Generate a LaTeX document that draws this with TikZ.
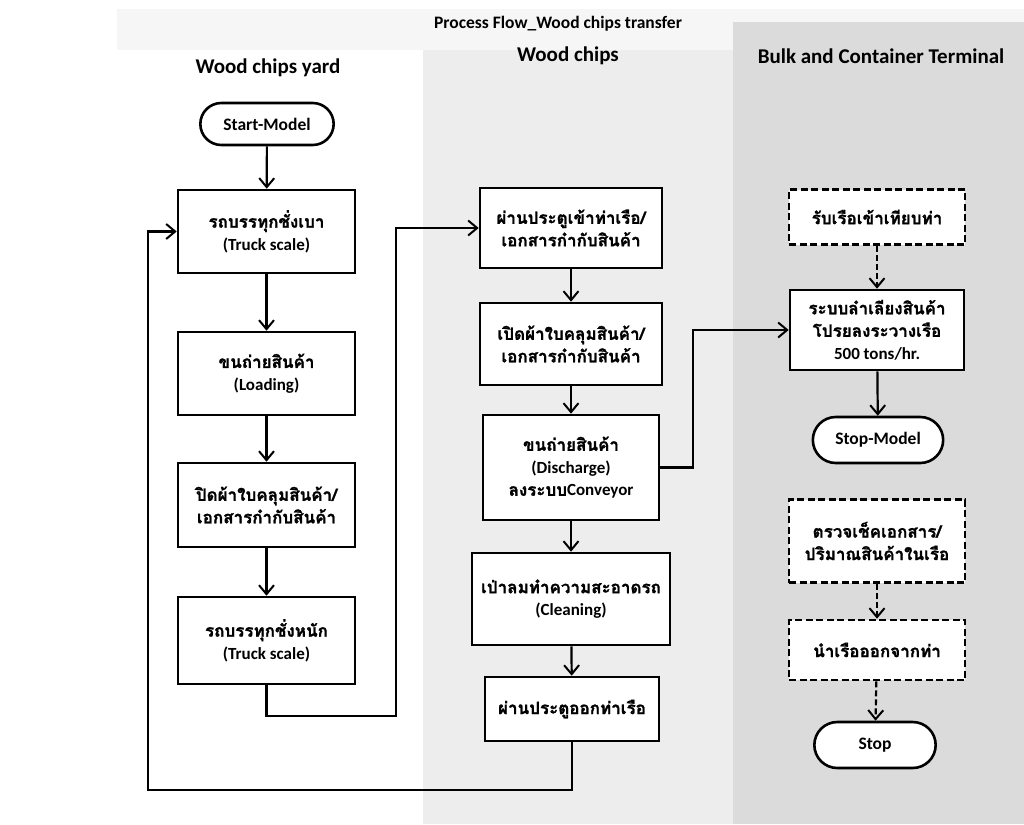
\documentclass[tikz,border=0pt]{standalone}
\usepackage{fontspec}
\setmainfont{Carlito}
\newfontfamily\thaifont[Script=Thai,FakeBold=1.2]{Loma}
\usetikzlibrary{arrows.meta,shapes.misc}
\newcommand\thx[1]{{\thaifont #1}}
\tikzset{
  box/.style={draw, line width=2.6pt, fill=white, align=center, inner sep=2pt,
    font=\bfseries\fontsize{17}{22.5}\selectfont},
  dbox/.style={box, dash pattern=on 7pt off 3.5pt},
  term/.style={draw, line width=2.6pt, fill=white, rounded rectangle, align=center,
    font=\bfseries\fontsize{17.5}{22}\selectfont},
  hdr/.style={font=\bfseries\fontsize{21}{24}\selectfont},
  ttl/.style={font=\bfseries\fontsize{17.5}{20}\selectfont},
  arr/.style={line width=2.2pt, -{Straight Barb[length=9pt,width=15pt,line width=2pt]}},
  darr/.style={arr, dash pattern=on 6pt off 3pt},
}
\begin{document}
\begin{tikzpicture}[x=1pt,y=-1pt]
\useasboundingbox (0,0) rectangle (1024,824);
% backgrounds
\fill[gray!7] (117,9) rectangle (1024,50);
\fill[gray!14] (423,50) rectangle (733,824);
\fill[gray!28] (733,22) rectangle (1024,824);
% headers
\node[ttl] (title) at (558,24) {Process Flow\_Wood chips transfer};
\node[hdr] (h1) at (268,68) {Wood chips yard};
\node[hdr] (h2) at (568,56) {Wood chips};
\node[hdr] (h3) at (881,56) {Bulk and Container Terminal};
% left column
\node[term, minimum width=140pt, minimum height=42pt] (start) at (267,124) {Start-Model};
\node[box, minimum width=177pt, minimum height=83pt] (b1) at (266.5,231.5) {\thx{รถบรรทุกชั่งเบา}\\(Truck scale)};
\node[box, minimum width=177pt, minimum height=83pt] (b2) at (266.5,373.5) {\thx{ขนถ่ายสินค้า}\\(Loading)};
\node[box, minimum width=177pt, minimum height=84pt] (b3) at (266.5,505) {\thx{ปิดผ้าใบคลุมสินค้า/}\\\thx{เอกสารกำกับสินค้า}};
\node[box, minimum width=177pt, minimum height=87pt] (b4) at (266.5,640.5) {\thx{รถบรรทุกชั่งหนัก}\\(Truck scale)};
% middle column
\node[box, minimum width=182pt, minimum height=80pt] (b5) at (571,228) {\thx{ผ่านประตูเข้าท่าเรือ/}\\\thx{เอกสารกำกับสินค้า}};
\node[box, minimum width=182pt, minimum height=82pt] (b6) at (571,344) {\thx{เปิดผ้าใบคลุมสินค้า/}\\\thx{เอกสารกำกับสินค้า}};
\node[box, minimum width=176pt, minimum height=105pt] (b7) at (571,467.5) {\thx{ขนถ่ายสินค้า}\\(Discharge)\\\thx{ลงระบบ}Conveyor};
\node[box, minimum width=198pt, minimum height=92pt] (b8) at (571,599) {\thx{เป่าลมทำความสะอาดรถ}\\(Cleaning)};
\node[box, minimum width=174pt, minimum height=64pt] (b9) at (572,709) {\thx{ผ่านประตูออกท่าเรือ}};
% right column
\node[dbox, minimum width=176pt, minimum height=55pt] (b10) at (877,217) {\thx{รับเรือเข้าเทียบท่า}};
\node[box, minimum width=174pt, minimum height=80pt] (b11) at (877,330) {\thx{ระบบลำเลียงสินค้า}\\\thx{โปรยลงระวางเรือ}\\500 tons/hr.};
\node[term, minimum width=137pt, minimum height=46pt] (sm) at (878,440) {Stop-Model};
\node[dbox, minimum width=176pt, minimum height=83pt] (b13) at (877,541) {\thx{ตรวจเช็คเอกสาร/}\\\thx{ปริมาณสินค้าในเรือ}};
\node[dbox, minimum width=176pt, minimum height=60pt] (b14) at (877,650) {\thx{นำเรือออกจากท่า}};
\node[term, minimum width=128pt, minimum height=46pt] (stop) at (875,745) {Stop};
% connectors
\draw[arr] (start) -- (b1);
\draw[arr] (b1) -- (b2);
\draw[arr] (b2) -- (b3);
\draw[arr] (b3) -- (b4);
\coordinate (c1) at (396,716);
\draw[arr] (b4.south) |- (c1) |- (b5.west);
\draw[arr] (b5) -- (b6);
\draw[arr] (b6) -- (b7);
\draw[arr] (b7) -- (b8);
\draw[arr] (b8) -- (b9);
\coordinate (c2) at (148,790);
\draw[arr] (b9.south) |- (c2) |- (b1.west);
\coordinate (c3) at (693,467.5);
\draw[arr] (b7.east) -- (c3) |- (b11.west);
\draw[darr] (b10) -- (b11);
\draw[arr] (b11) -- (sm);
\draw[darr] (b13) -- (b14);
\draw[darr] (b14) -- (stop);
\end{tikzpicture}
\end{document}
